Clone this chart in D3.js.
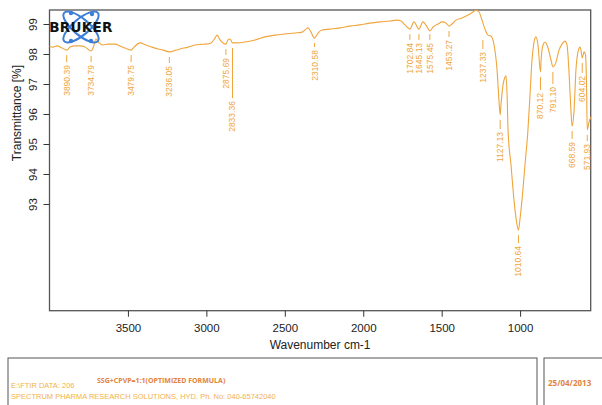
<!DOCTYPE html>
<html><head><meta charset="utf-8">
<script src="https://cdn.jsdelivr.net/npm/d3@7"></script>
<style>
html,body{margin:0;padding:0;background:#fff;}
svg{display:block;font-family:"Liberation Sans",Arial,sans-serif;}
</style></head>
<body>
<svg id="chart" width="602" height="405"></svg>
<script>
// ---- data ----
const wavenumbers = [4000,3978,3952,3920,3890,3869,3837,3806,3774,3735,3722,3704,3684,3659,3627,3582,3551,3519,3480,3461,3423,3385,3347,3308,3276,3236,3213,3168,3117,3072,3041,3002,2970,2945,2932,2913,2876,2862,2849,2833,2811,2753,2690,2626,2563,2499,2435,2390,2365,2352,2333,2311,2288,2263,2212,2148,2084,2021,1957,1893,1829,1785,1759,1734,1702,1677,1645,1620,1601,1575,1555,1523,1498,1472,1453,1434,1409,1370,1332,1300,1281,1262,1243,1224,1205,1186,1166,1147,1135,1127,1122,1109,1096,1090,1083,1077,1058,1039,1026,1011,1000,988,969,950,937,924,911,899,886,870,867,854,841,822,803,791,771,752,733,714,701,689,676,669,656,644,631,618,612,604,592,583,576,572,562,550];
const transmittance = [98.25,98.23,98.27,98.20,98.13,98.23,98.27,98.27,98.23,98.10,98.20,98.50,98.37,98.30,98.33,98.33,98.27,98.20,98.13,98.23,98.37,98.30,98.23,98.17,98.13,98.07,98.10,98.17,98.23,98.30,98.32,98.33,98.37,98.53,98.63,98.47,98.33,98.47,98.50,98.37,98.37,98.40,98.47,98.57,98.63,98.67,98.70,98.73,98.83,98.87,98.73,98.53,98.70,98.80,98.83,98.87,98.93,98.97,99.03,99.07,99.10,99.13,99.10,98.97,98.83,99.07,98.83,99.07,98.97,98.77,98.90,99.00,99.07,99.03,98.93,99.00,99.13,99.20,99.30,99.40,99.46,99.40,99.13,98.83,98.63,98.60,98.30,97.47,96.47,95.97,96.30,96.97,97.23,97.27,96.63,95.47,94.30,93.13,92.53,92.13,92.53,93.13,94.30,95.47,96.63,97.80,98.40,98.57,98.30,97.40,97.73,98.30,98.40,98.20,97.80,97.57,97.73,98.13,98.33,98.43,98.30,97.47,96.13,95.60,96.13,97.47,98.07,98.23,98.13,97.87,98.07,97.97,96.80,95.47,95.70,95.90];

const peakWavenumbers = [3890.39,3734.79,3479.75,3236.05,2875.69,2833.36,2310.58,1702.84,1645.13,1575.45,1453.27,1237.33,1127.13,1010.64,870.12,791.10,668.59,604.02,571.93];
const peakLabels = ["3890.39","3734.79","3479.75","3236.05","2875.69","2833.36","2310.58","1702.84","1645.13","1575.45","1453.27","1237.33","1127.13","1010.64","870.12","791.10","668.59","604.02","571.93"];
const peakT  = [98.13,98.10,98.13,98.07,98.33,98.37,98.53,98.83,98.83,98.83,98.93,98.63,95.97,92.13,97.40,97.57,95.60,97.87,95.47];
const labelT = [97.63,97.63,97.63,97.60,97.87,96.43,98.13,98.37,98.37,98.37,98.47,98.07,95.40,91.60,96.70,96.90,95.07,97.27,95.00];

const xTicks = [3500,3000,2500,2000,1500,1000];
const yTicks = [93,94,95,96,97,98,99];

const xTitle = "Wavenumber cm-1";
const yTitle = "Transmittance [%]";
const footerFile = "E:\\FTIR DATA: 206";
const footerSample = "SSG+CPVP=1:1(OPTIMIZED FORMULA)";
const footerLab = "SPECTRUM PHARMA RESEARCH SOLUTIONS, HYD. Ph. No: 040-65742040";
const footerDate = "25/04/2013";

// ---- drawing ----
const svg = d3.select("#chart");
const L = 49.5, R = 590.7, T = 10, B = 310.7;
const x = d3.scaleLinear().domain([4000, 550]).range([L, R]);
const y = d3.scaleLinear().domain([89.443, 99.467]).range([B, T]);
const orange = "#f0a53c";
const axisColor = "#333";

// frame
svg.append("rect").attr("x", L).attr("y", T).attr("width", R - L).attr("height", B - T)
  .attr("fill", "none").attr("stroke", "#555").attr("stroke-width", 1.3);

// x axis
const xAxis = svg.append("g").attr("transform", `translate(0,${B})`)
  .call(d3.axisBottom(x).tickValues(xTicks).tickSize(6).tickSizeOuter(0).tickFormat(d3.format("d")));
xAxis.select(".domain").remove();
xAxis.selectAll("line").attr("stroke", axisColor);
xAxis.selectAll("text").attr("fill", "#222").attr("font-size", 11.5).attr("dy", "1.1em")
  .attr("font-family", "Liberation Sans, Arial, sans-serif");

// y axis
const yAxis = svg.append("g").attr("transform", `translate(${L},0)`)
  .call(d3.axisLeft(y).tickValues(yTicks).tickSize(6).tickSizeOuter(0));
yAxis.select(".domain").remove();
yAxis.selectAll("line").attr("stroke", axisColor);
yAxis.selectAll("text").attr("fill", "#222").attr("font-size", 11.5)
  .attr("font-family", "Liberation Sans, Arial, sans-serif")
  .attr("text-anchor", "middle").attr("x", 0)
  .attr("transform", "translate(-17,0) rotate(-90)").attr("dy", "0.35em");

// titles
svg.append("text").attr("x", (L + R) / 2).attr("y", 349).attr("text-anchor", "middle")
  .attr("font-size", 12).attr("fill", "#222").text(xTitle);
svg.append("text").attr("transform", `translate(21,${113}) rotate(-90)`).attr("text-anchor", "middle")
  .attr("font-size", 12).attr("fill", "#222").text(yTitle);

// spectrum
const pts = wavenumbers.map((w, i) => [w, transmittance[i]]);
svg.append("path").datum(pts)
  .attr("fill", "none").attr("stroke", orange).attr("stroke-width", 1.1).attr("stroke-linejoin", "round")
  .attr("d", d3.line().x(d => x(d[0])).y(d => y(d[1])).curve(d3.curveMonotoneX));

// peak labels
const pk = svg.append("g");
peakWavenumbers.forEach((w, i) => {
  const px = x(w);
  pk.append("line").attr("x1", px).attr("x2", px)
    .attr("y1", y(peakT[i]) + 5).attr("y2", y(labelT[i]) - 3)
    .attr("stroke", orange).attr("stroke-width", 1);
  pk.append("text").attr("transform", `translate(${px},${y(labelT[i])}) rotate(-90)`)
    .attr("text-anchor", "end").attr("dy", "0.35em")
    .attr("font-size", 8.5).attr("fill", orange).text(peakLabels[i]);
});

// Bruker logo
const logo = svg.append("g").attr("transform", "translate(81,27)");
[-40, 40].forEach(a => {
  logo.append("ellipse").attr("rx", 22).attr("ry", 8).attr("transform", `rotate(${a})`)
    .attr("fill", "none").attr("stroke", "#3d7fd6").attr("stroke-width", 2);
});
[[-10, -14], [10, 14], [-10, 14], [11, -13]].forEach(p => {
  logo.append("circle").attr("cx", p[0]).attr("cy", p[1]).attr("r", 2.2).attr("fill", "#3d7fd6");
});
svg.append("text").attr("x", 81).attr("y", 32).attr("text-anchor", "middle")
  .attr("font-size", 13.5).attr("font-weight", "bold").attr("letter-spacing", 0.3)
  .attr("fill", "#111").attr("font-family", "DejaVu Sans, sans-serif").text("BRUKER");

// footer
svg.append("rect").attr("x", 8).attr("y", 358).attr("width", 529).attr("height", 60)
  .attr("fill", "none").attr("stroke", "#555").attr("stroke-width", 1);
svg.append("rect").attr("x", 544).attr("y", 358).attr("width", 70).attr("height", 60)
  .attr("fill", "none").attr("stroke", "#555").attr("stroke-width", 1);
svg.append("text").attr("x", 11).attr("y", 388).attr("font-size", 7.5).attr("fill", "#f2b24a").text(footerFile);
svg.append("text").attr("x", 97).attr("y", 383).attr("font-size", 7).attr("font-weight", "bold")
  .attr("fill", "#e2843c").attr("font-family", "Open Sans, sans-serif").text(footerSample);
svg.append("text").attr("x", 11).attr("y", 399).attr("font-size", 7.5).attr("fill", "#f2b24a").text(footerLab);
svg.append("text").attr("x", 548).attr("y", 386).attr("font-size", 8).attr("font-weight", "bold")
  .attr("fill", "#e2843c").attr("font-family", "Open Sans, sans-serif").text(footerDate);
</script>
</body></html>
